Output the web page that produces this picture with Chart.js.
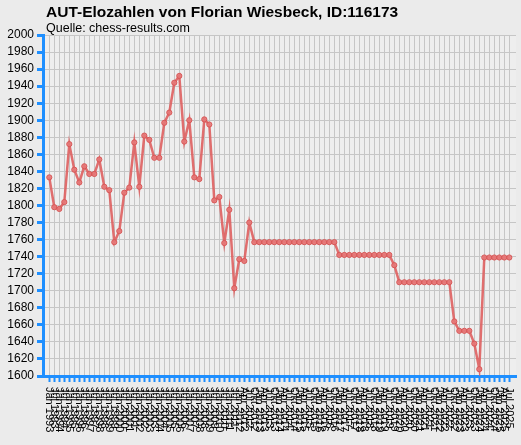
<!DOCTYPE html>
<html>
<head>
<meta charset="utf-8">
<script src="https://cdn.jsdelivr.net/npm/chart.js@4.4.1/dist/chart.umd.min.js"></script>
<style>
  html, body { margin: 0; padding: 0; background: #ebebeb; }
  canvas { display: block; }
</style>
</head>
<body>
<canvas id="elo" width="521" height="445"></canvas>
<script>
const TITLE = "AUT-Elozahlen von Florian Wiesbeck, ID:116173";
const SUBTITLE = "Quelle: chess-results.com";

// rating lists: half-yearly until 2011, quarterly afterwards
const months = ["Jän", "Apr", "Jul", "Okt"];
const listLabels = [];
for (let y = 1993; y <= 2011; y++) {
  listLabels.push("Jän " + y, "Jul " + y);
}
for (let y = 2012; y <= 2025; y++) {
  for (const m of months) listLabels.push(m + " " + y);
}
listLabels.length = 93;

const eloValues = [
  1833, 1798, 1796, 1804, 1872, 1842, 1827, 1846, 1837, 1837,
  1854, 1822, 1818, 1757, 1770, 1815, 1821, 1874, 1822, 1882,
  1877, 1856, 1856, 1897, 1909, 1944, 1952, 1875, 1900, 1833,
  1831, 1901, 1895, 1806, 1810, 1756, 1795, 1703, 1737, 1735,
  1780, 1757, 1757, 1757, 1757, 1757, 1757, 1757, 1757, 1757,
  1757, 1757, 1757, 1757, 1757, 1757, 1757, 1757, 1742, 1742,
  1742, 1742, 1742, 1742, 1742, 1742, 1742, 1742, 1742, 1730,
  1710, 1710, 1710, 1710, 1710, 1710, 1710, 1710, 1710, 1710,
  1710, 1664, 1653, 1653, 1653, 1638, 1608, 1739, 1739, 1739,
  1739, 1739, 1739,
];

const yTicks = [];
for (let v = 1600; v <= 2000; v += 20) yTicks.push(v);

const AXIS_BLUE = "#1e8fff";
const GRID = "#c6c6c6";
const FONT = "'Liberation Sans', Arial, sans-serif";

const backdrop = {
  id: "backdrop",
  beforeDraw(chart) {
    const { ctx, chartArea: a } = chart;
    ctx.save();
    ctx.fillStyle = "#ebebeb";
    ctx.fillRect(0, 0, chart.width, chart.height);
    ctx.fillStyle = "#eeeeee";
    ctx.fillRect(a.left, a.top, a.right - a.left, a.bottom - a.top);
    ctx.restore();
  },
  afterDraw(chart) {
    const ctx = chart.ctx;
    const xs = chart.scales.x;
    ctx.save();
    ctx.fillStyle = "#000";
    ctx.textBaseline = "alphabetic";
    ctx.font = "bold 15.5px " + FONT;
    ctx.fillText(TITLE, 46, 17);
    ctx.font = "12.5px " + FONT;
    ctx.fillText(SUBTITLE, 46, 32);

    // x labels, turned clockwise so they read downwards from the axis
    ctx.font = "11px " + FONT;
    ctx.textAlign = "left";
    ctx.textBaseline = "middle";
    const top = chart.chartArea.bottom + 11;
    listLabels.forEach((label, i) => {
      ctx.save();
      ctx.translate(xs.getPixelForValue(i), top);
      ctx.rotate(Math.PI / 2);
      ctx.fillText(label, 0, 0);
      ctx.restore();
    });
    ctx.restore();
  },
};

new Chart(document.getElementById("elo"), {
  type: "line",
  data: {
    datasets: [
      {
        data: eloValues.map((v, i) => ({ x: i, y: v })),
        borderColor: "rgba(222, 95, 95, 0.9)",
        borderWidth: 2.5,
        pointRadius: 2.6,
        pointBorderWidth: 1,
        pointBorderColor: "rgba(215, 85, 85, 0.95)",
        pointBackgroundColor: "rgba(230, 120, 120, 0.9)",
        tension: 0,
      },
    ],
  },
  options: {
    responsive: false,
    animation: false,
    layout: { padding: { top: 35, right: 5, left: 0, bottom: 0 } },
    plugins: { legend: { display: false }, tooltip: { enabled: false } },
    scales: {
      x: {
        type: "linear",
        min: -1.26,
        max: 93.34,
        afterBuildTicks: (s) => {
          s.ticks = listLabels.map((_, i) => ({ value: i }));
        },
        afterFit: (s) => {
          s.height = 69;
          s.paddingLeft = 0;
          s.paddingRight = 0;
        },
        grid: { color: GRID, lineWidth: 1, tickColor: AXIS_BLUE, tickLength: 6, tickWidth: 2 },
        border: { color: AXIS_BLUE, width: 3 },
        ticks: { display: false, autoSkip: false },
      },
      y: {
        min: 1600,
        max: 2000,
        afterBuildTicks: (s) => {
          s.ticks = yTicks.map((v) => ({ value: v }));
        },
        afterFit: (s) => {
          s.width = 43;
          s.paddingTop = 0;
          s.paddingBottom = 0;
        },
        grid: { color: GRID, lineWidth: 1, tickColor: AXIS_BLUE, tickLength: 6, tickWidth: 3 },
        border: { color: AXIS_BLUE, width: 3 },
        ticks: {
          autoSkip: false,
          padding: 3,
          color: "#000",
          font: { family: FONT, size: 12 },
          callback: (v) => String(v),
        },
      },
    },
  },
  plugins: [backdrop],
});
</script>
</body>
</html>
